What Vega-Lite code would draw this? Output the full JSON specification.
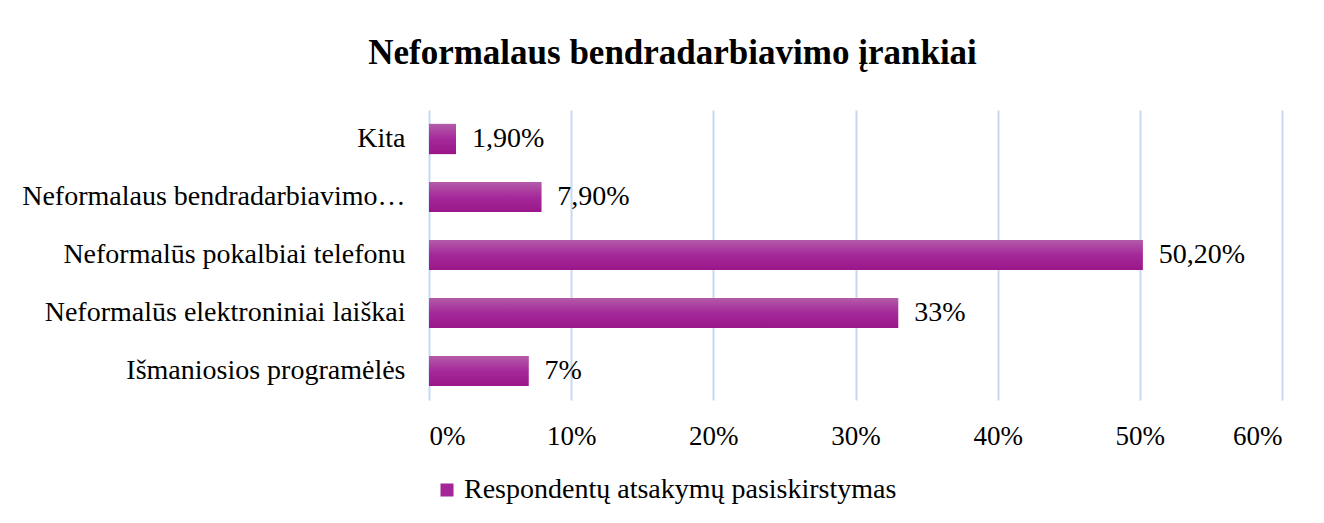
{
  "$schema": "https://vega.github.io/schema/vega-lite/v6.json",
  "width": 853,
  "height": 290,
  "autosize": {"type": "none"},
  "padding": {"left": 429, "top": 110, "right": 42, "bottom": 123},
  "background": "white",
  "title": {
    "text": "Neformalaus bendradarbiavimo įrankiai",
    "font": "Liberation Serif",
    "fontSize": 35,
    "fontWeight": "bold",
    "color": "black",
    "anchor": "middle",
    "frame": "group",
    "dx": -183,
    "offset": 39
  },
  "data": {
    "values": [
      {"category": "Kita", "value": 1.9, "label": "1,90%", "series": "Respondentų atsakymų pasiskirstymas"},
      {"category": "Neformalaus bendradarbiavimo…", "value": 7.9, "label": "7,90%", "series": "Respondentų atsakymų pasiskirstymas"},
      {"category": "Neformalūs pokalbiai telefonu", "value": 50.2, "label": "50,20%", "series": "Respondentų atsakymų pasiskirstymas"},
      {"category": "Neformalūs elektroniniai laiškai", "value": 33, "label": "33%", "series": "Respondentų atsakymų pasiskirstymas"},
      {"category": "Išmaniosios programėlės", "value": 7, "label": "7%", "series": "Respondentų atsakymų pasiskirstymas"}
    ]
  },
  "encoding": {
    "y": {
      "field": "category",
      "type": "nominal",
      "sort": null,
      "title": null,
      "scale": {"paddingInner": 0.48, "paddingOuter": 0.24},
      "axis": {
        "domain": false,
        "ticks": false,
        "labelFont": "Liberation Serif",
        "labelFontSize": 28,
        "labelColor": "black",
        "labelPadding": 24,
        "labelLimit": 500
      }
    },
    "x": {
      "field": "value",
      "type": "quantitative",
      "title": null,
      "scale": {"domain": [0, 60]},
      "axis": {
        "values": [0, 10, 20, 30, 40, 50, 60],
        "labelExpr": "datum.value + '%'",
        "domain": false,
        "ticks": false,
        "grid": true,
        "gridColor": "#c6d9f1",
        "gridWidth": 2,
        "labelFont": "Liberation Serif",
        "labelFontSize": 27,
        "labelColor": "black",
        "labelPadding": 23
      }
    }
  },
  "layer": [
    {
      "mark": {"type": "bar"},
      "encoding": {
        "color": {
          "field": "series",
          "type": "nominal",
          "scale": {"range": ["#a32596"]},
          "legend": {
            "title": null,
            "orient": "none",
            "legendX": 4,
            "legendY": 366,
            "symbolType": "square",
            "symbolSize": 169,
            "symbolOpacity": 1,
            "labelFont": "Liberation Serif",
            "labelFontSize": 28,
            "labelColor": "black",
            "labelLimit": 700,
            "labelOffset": 3
          }
        }
      }
    },
    {
      "mark": {
        "type": "bar",
        "fill": {
          "gradient": "linear",
          "x1": 0, "y1": 0, "x2": 0, "y2": 1,
          "stops": [
            {"offset": 0, "color": "#b35ba8"},
            {"offset": 0.5, "color": "#a5299a"},
            {"offset": 1, "color": "#9a1689"}
          ]
        }
      }
    },
    {
      "mark": {
        "type": "text",
        "align": "left",
        "baseline": "middle",
        "dx": 16,
        "font": "Liberation Serif",
        "fontSize": 28,
        "color": "black"
      },
      "encoding": {"text": {"field": "label"}}
    }
  ],
  "config": {"view": {"stroke": null}}
}
